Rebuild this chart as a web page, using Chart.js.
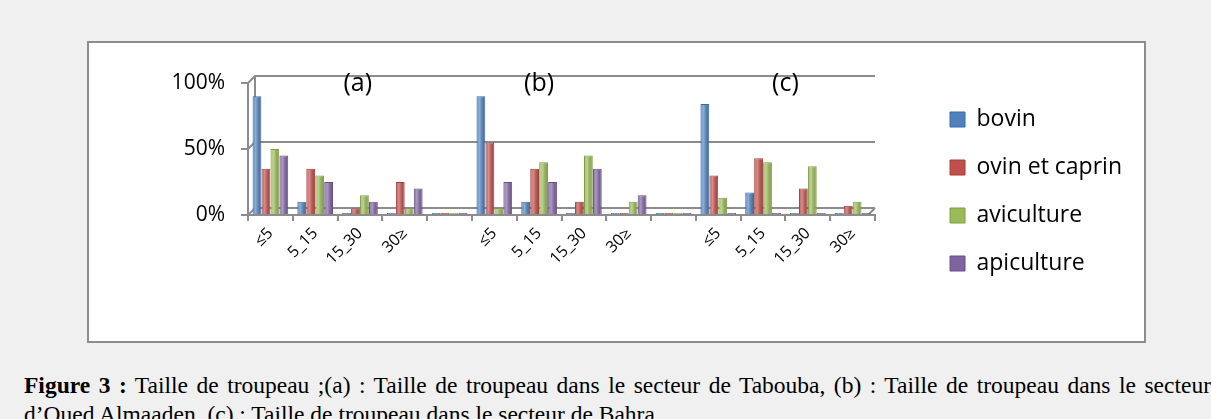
<!DOCTYPE html>
<html>
<head>
<meta charset="utf-8">
<script src="https://cdn.jsdelivr.net/npm/chart.js@4.4.1/dist/chart.umd.min.js"></script>
<style>
  html, body { margin: 0; padding: 0; background: #f0f0f0; width: 1211px; height: 419px; overflow: hidden; }
  #box { position: absolute; left: 87px; top: 41px; width: 1055px; height: 298px; background: #fff; border: 2px solid #8c8c8c; }
  #caption { position: absolute; left: 24px; top: 371px; width: 1187px; font-family: "Liberation Serif", serif; font-size: 23.5px; line-height: 29px; text-align: justify; color: #000; }
</style>
</head>
<body>
<div id="box"><canvas id="myChart" width="1055" height="298"></canvas></div>
<div id="caption"><b>Figure 3 :</b> Taille de troupeau ;(a) : Taille de troupeau dans le secteur de Tabouba, (b) : Taille de troupeau dans le secteur d’Oued Almaaden, (c) : Taille de troupeau dans le secteur de Bahra.</div>
<script>
// 3 sectors, 4 herd-size classes each, with an empty slot between sectors
const categories = ['≤5', '5_15', '15_30', '30≥', '', '≤5', '5_15', '15_30', '30≥', '', '≤5', '5_15', '15_30', '30≥'];
const bovin      = [90, 10, 0, 0,   0, 90, 10, 0, 0,    0, 84, 17, 0, 0];
const ovinCaprin = [35, 35, 5, 25,  0, 55, 35, 10, 0,   0, 30, 43, 20, 7];
const aviculture = [50, 30, 15, 5,  0, 5, 40, 45, 10,   0, 13, 40, 37, 10];
const apiculture = [45, 25, 10, 20, 0, 25, 25, 35, 15,  0, 0, 0, 0, 0];
const seriesNames = ['bovin', 'ovin et caprin', 'aviculture', 'apiculture'];
const panelTitles = ['(a)', '(b)', '(c)'];
const yTicks = [0, 50, 100];

const chartColors = {
  blue: '#4f81bd',
  red: '#c0504d',
  green: '#9bbb59',
  purple: '#8064a2'
};
const edgeColors = ['#3a6aa3', '#a33e3b', '#7f9c45', '#684f88'];
const axisGrey = '#8c8c8c';
const depth = { dx: 7, dy: 7 };

// back wall + floor of the pseudo 3D frame
const wallFrame = {
  id: 'wallFrame',
  beforeDatasetsDraw(chart) {
    const { ctx, chartArea, scales: { y } } = chart;
    const left = chartArea.left, right = chartArea.right;
    ctx.save();
    ctx.strokeStyle = axisGrey;
    ctx.lineWidth = 2;
    yTicks.forEach(v => {
      const py = y.getPixelForValue(v);
      ctx.beginPath();
      ctx.moveTo(left, py);
      ctx.lineTo(left + depth.dx, py - depth.dy);
      ctx.lineTo(right, py - depth.dy);
      ctx.stroke();
    });
    const y0 = y.getPixelForValue(0), y1 = y.getPixelForValue(100);
    ctx.beginPath();
    ctx.moveTo(left + depth.dx, y0 - depth.dy);
    ctx.lineTo(left + depth.dx, y1 - depth.dy);
    ctx.stroke();
    ctx.beginPath();
    ctx.moveTo(right - depth.dx, y0);
    ctx.lineTo(right, y0 - depth.dy);
    ctx.stroke();
    ctx.restore();
  },
  afterDatasetsDraw(chart) {
    // soft cylinder shading on each bar
    const { ctx } = chart;
    ctx.save();
    chart.data.datasets.forEach((ds, i) => {
      chart.getDatasetMeta(i).data.forEach(bar => {
        const x0 = bar.x - bar.width / 2;
        const g = ctx.createLinearGradient(x0, 0, x0 + bar.width, 0);
        g.addColorStop(0, 'rgba(255,255,255,0.05)');
        g.addColorStop(0.35, 'rgba(255,255,255,0.35)');
        g.addColorStop(1, 'rgba(0,0,0,0.12)');
        ctx.fillStyle = g;
        const top = Math.min(bar.y, bar.base), h = Math.abs(bar.base - bar.y);
        ctx.fillRect(x0 + 1, top + 1, bar.width - 2, h - 1);
      });
    });
    ctx.restore();
  }
};

const panelLabels = {
  id: 'panelLabels',
  afterDraw(chart, args, opts) {
    const { ctx, chartArea, scales: { x } } = chart;
    ctx.save();
    ctx.font = '25px "Open Sans"';
    ctx.fillStyle = '#000';
    ctx.textAlign = 'center';
    ctx.textBaseline = 'middle';
    panelTitles.forEach((t, i) => {
      ctx.fillText(t, x.getPixelForValue(opts.at[i]), chartArea.top + 1);
    });
    ctx.restore();
  }
};

const ctx = document.getElementById('myChart').getContext('2d');
const myChart = new Chart(ctx, {
  type: 'bar',
  data: {
    labels: categories,
    datasets: [bovin, ovinCaprin, aviculture, apiculture].map((d, i) => ({
      label: seriesNames[i],
      data: d,
      backgroundColor: [chartColors.blue, chartColors.red, chartColors.green, chartColors.purple][i],
      borderColor: edgeColors[i],
      borderWidth: 1,
      minBarLength: 2,
      categoryPercentage: 0.8,
      barPercentage: 0.98
    }))
  },
  options: {
    responsive: false,
    animation: false,
    layout: {
      padding: { top: 40, right: 12, left: 0, bottom: 0 }
    },
    scales: {
      x: {
        afterFit(s) { s.height = 126; },
        ticks: {
          autoSkip: false, maxRotation: 45, minRotation: 45, padding: 3,
          color: '#000', font: { family: 'Open Sans', size: 16 }
        },
        grid: { drawOnChartArea: false, offset: true, tickColor: axisGrey, tickLength: 6, lineWidth: 2 },
        border: { color: axisGrey, width: 2 }
      },
      y: {
        min: 0, max: 100,
        afterFit(s) { s.width = 159; },
        afterBuildTicks(s) { s.ticks = yTicks.map(v => ({ value: v })); },
        ticks: {
          padding: 16, color: '#000', font: { family: 'Open Sans', size: 21 },
          callback: v => v + '%'
        },
        grid: { drawOnChartArea: false, tickColor: axisGrey, tickLength: 7, lineWidth: 2 },
        border: { color: axisGrey, width: 2 }
      },
      spacer: {
        position: 'right',
        afterFit(s) { s.width = 50; },
        grid: { display: false },
        ticks: { display: false },
        border: { display: false }
      }
    },
    plugins: {
      legend: {
        position: 'right',
        align: 'start',
        maxWidth: 300,
        labels: {
          boxWidth: 15, boxHeight: 15, padding: 25,
          color: '#000', font: { family: 'Open Sans', size: 23 }
        }
      },
      tooltip: { enabled: false },
      panelLabels: { at: [1.95, 6.0, 11.5] }
    }
  },
  plugins: [wallFrame, panelLabels]
});
</script>
</body>
</html>
